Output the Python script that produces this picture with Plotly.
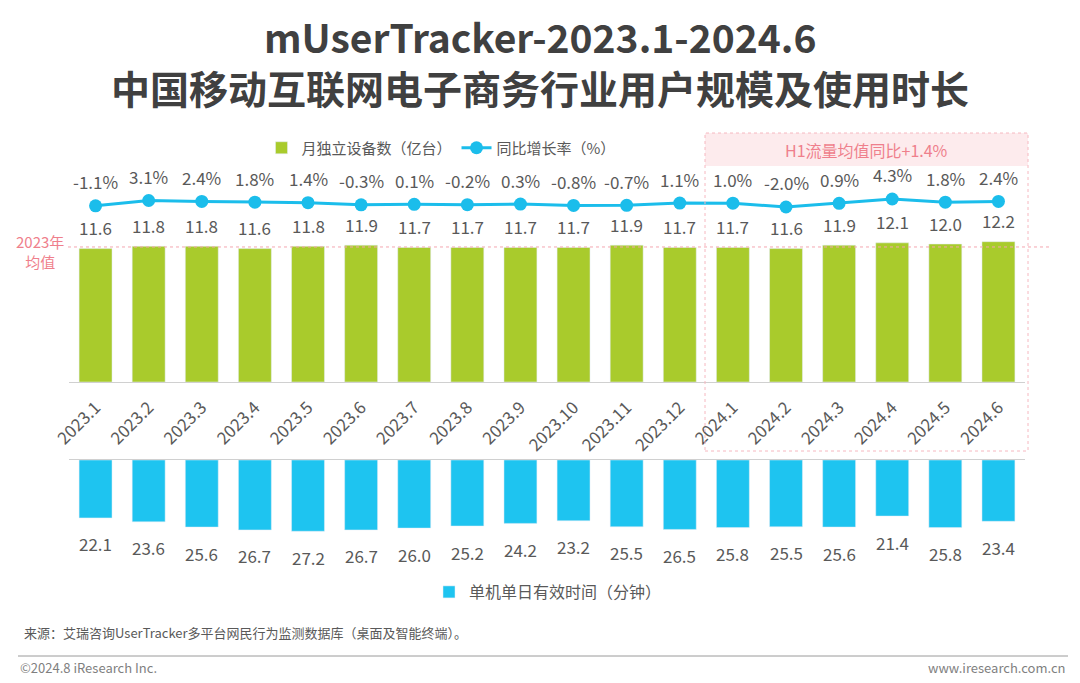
import plotly.graph_objects as go

# data
months = ['2023.1', '2023.2', '2023.3', '2023.4', '2023.5', '2023.6', '2023.7', '2023.8', '2023.9',
          '2023.10', '2023.11', '2023.12', '2024.1', '2024.2', '2024.3', '2024.4', '2024.5', '2024.6']
devices = [11.6, 11.8, 11.8, 11.6, 11.8, 11.9, 11.7, 11.7, 11.7,
           11.7, 11.9, 11.7, 11.7, 11.6, 11.9, 12.1, 12.0, 12.2]  # 亿台
growth = [-1.1, 3.1, 2.4, 1.8, 1.4, -0.3, 0.1, -0.2, 0.3,
          -0.8, -0.7, 1.1, 1.0, -2.0, 0.9, 4.3, 1.8, 2.4]  # %
minutes = [22.1, 23.6, 25.6, 26.7, 27.2, 26.7, 26.0, 25.2, 24.2,
           23.2, 25.5, 26.5, 25.8, 25.5, 25.6, 21.4, 25.8, 23.4]

avg_2023 = sum(devices[:12]) / 12

W, H = 1080, 683
GREEN = '#A9CB2C'
BLUE = '#1EC4F0'
LINE_BLUE = '#1BBDEB'
PINK = '#EF7F8C'
GREY = '#595959'
FONT = 'Noto Sans CJK SC'


def py(pixel):
    # pixel row -> paper coordinate
    return 1 - pixel / H


fig = go.Figure()

fig.add_trace(go.Bar(x=months, y=devices, name='月独立设备数（亿台）', marker_color=GREEN,
                     xaxis='x', yaxis='y', legend='legend'))
fig.add_trace(go.Scatter(x=months, y=growth, name='同比增长率（%）', mode='lines+markers',
                         line=dict(color=LINE_BLUE, width=3), marker=dict(size=13, color=LINE_BLUE),
                         xaxis='x', yaxis='y2', legend='legend'))
fig.add_trace(go.Bar(x=months, y=minutes, name='单机单日有效时间（分钟）', marker_color=BLUE,
                     xaxis='x2', yaxis='y3', legend='legend2'))

# value labels (x given as category index)
annotations = []
for i, v in enumerate(devices):
    annotations.append(dict(x=i, y=v, xref='x', yref='y', text=f'{v:.1f}', yanchor='middle',
                            showarrow=False, yshift=21, font=dict(size=17, color=GREY)))
for i, v in enumerate(growth):
    annotations.append(dict(x=i, y=v, xref='x', yref='y2', text=f'{v:.1f}%', yanchor='middle',
                            showarrow=False, yshift=24, font=dict(size=17, color=GREY)))
for i, v in enumerate(minutes):
    annotations.append(dict(x=i, y=v, xref='x2', yref='y3', text=f'{v:.1f}', yanchor='middle',
                            showarrow=False, yshift=-26, font=dict(size=17, color=GREY)))

# titles and notes
notes = [
    dict(x=0.5, y=py(36), text='<b>mUserTracker-2023.1-2024.6</b>',
         font=dict(size=39, color='#404040')),
    dict(x=0.5, y=py(87), text='<b>中国移动互联网电子商务行业用户规模及使用时长</b>',
         font=dict(size=39, color='#404040')),
    dict(x=40 / W, y=py(251), text='2023年<br>均值', font=dict(size=15, color=PINK)),
    dict(x=866 / W, y=py(150), text='H1流量均值同比+1.4%', font=dict(size=16, color=PINK)),
    dict(x=22 / W, y=py(632), xanchor='left',
         text='来源：艾瑞咨询UserTracker多平台网民行为监测数据库（桌面及智能终端）。',
         font=dict(size=13, color=GREY)),
    dict(x=18 / W, y=py(667), xanchor='left', text='©2024.8 iResearch Inc.',
         font=dict(size=13, color='#7f7f7f')),
    dict(x=1068 / W, y=py(667), xanchor='right', text='www.iresearch.com.cn',
         font=dict(size=13, color='#7f7f7f')),
]
for a in notes:
    a.setdefault('xanchor', 'center')
    a.update(xref='paper', yref='paper', showarrow=False, yanchor='middle')
annotations += notes

shapes = [
    # H1 box with shaded header band
    dict(type='rect', xref='paper', yref='paper', x0=705 / W, x1=1028 / W, y0=py(166), y1=py(133),
         fillcolor='#FDEBED', line=dict(width=0), layer='below'),
    dict(type='rect', xref='paper', yref='paper', x0=705 / W, x1=1028 / W, y0=py(451), y1=py(133),
         line=dict(color='#F6B8C0', width=1, dash='dot'), layer='above'),
    # 2023 average line
    dict(type='line', xref='paper', yref='y', x0=68 / W, x1=1050 / W, y0=avg_2023, y1=avg_2023,
         line=dict(color='#F4A7B0', width=1, dash='dot')),
    # footer rule
    dict(type='line', xref='paper', yref='paper', x0=18 / W, x1=1068 / W, y0=py(656), y1=py(656),
         line=dict(color='#9a9a9a', width=1)),
]

x_dom = [69 / W, 1025 / W]
x_rng = [-0.5, 17.5]
top_px = 252  # height of the upper plot area
fig.update_layout(
    width=W, height=H, margin=dict(l=0, r=0, t=0, b=0),
    paper_bgcolor='white', plot_bgcolor='rgba(0,0,0,0)',
    font=dict(family=FONT, color=GREY),
    bargap=0.38, annotations=annotations, shapes=shapes,
    xaxis=dict(type='category', domain=x_dom, range=x_rng, anchor='y', tickangle=-45, showline=True,
               linecolor='#d0d0d0', linewidth=1, ticks='', tickfont=dict(size=17, color=GREY),
               ticklabelstandoff=8, showgrid=False, fixedrange=True, automargin=False),
    yaxis=dict(domain=[py(382), py(130)], range=[0, top_px / 11.5], visible=False, showgrid=False),
    yaxis2=dict(overlaying='y', range=[-139.8, -139.8 + top_px / 1.27], visible=False, showgrid=False),
    xaxis2=dict(type='category', domain=x_dom, range=x_rng, anchor='y3', side='top', showline=True,
                linecolor='#d0d0d0', linewidth=1, showticklabels=False, ticks='', showgrid=False,
                automargin=False),
    yaxis3=dict(domain=[py(560), py(460)], range=[100 / 2.62, 0], visible=False, showgrid=False),
    legend=dict(orientation='h', x=441 / W, y=py(148), xanchor='center', yanchor='middle',
                font=dict(size=15, color=GREY), bgcolor='rgba(0,0,0,0)', traceorder='normal'),
    legend2=dict(orientation='h', x=548 / W, y=py(592), xanchor='center', yanchor='middle',
                 font=dict(size=16, color=GREY), bgcolor='rgba(0,0,0,0)'),
    showlegend=True,
)

fig.write_html('out.html', config={'displayModeBar': False},
               post_script="document.body.style.margin='0';")
